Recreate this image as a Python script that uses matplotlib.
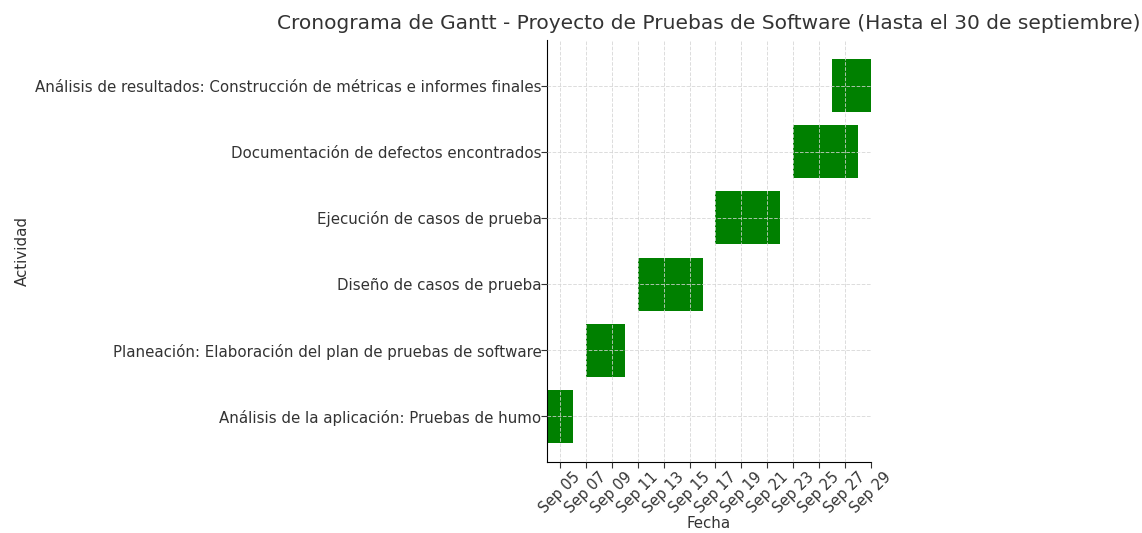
import matplotlib
matplotlib.use("Agg")
import matplotlib.pyplot as plt
import matplotlib.dates as mdates
from datetime import datetime

tasks = [
    "Análisis de la aplicación: Pruebas de humo",
    "Planeación: Elaboración del plan de pruebas de software",
    "Diseño de casos de prueba",
    "Ejecución de casos de prueba",
    "Documentación de defectos encontrados",
    "Análisis de resultados: Construcción de métricas e informes finales",
]
starts = ["2023-09-04", "2023-09-07", "2023-09-11", "2023-09-17", "2023-09-23", "2023-09-26"]
ends = ["2023-09-06", "2023-09-10", "2023-09-16", "2023-09-22", "2023-09-28", "2023-09-29"]

s = [mdates.date2num(datetime.strptime(d, "%Y-%m-%d")) for d in starts]
e = [mdates.date2num(datetime.strptime(d, "%Y-%m-%d")) for d in ends]
dur = [b - a for a, b in zip(s, e)]

txt = "#333333"
plt.rcParams['font.family'] = ['DejaVu Sans']
fig = plt.figure(figsize=(11.42, 5.33), dpi=100)
ax = fig.add_axes([547/1142, 1-462/533, (871-547)/1142, (462-40)/533])

ax.barh(tasks, dur, left=s, color="green", height=0.8, zorder=2)
ax.set_axisbelow(False)
ax.grid(True, linestyle="--", color="#d4d4d4", linewidth=0.7, alpha=0.8)
ax.set_xlim(mdates.date2num(datetime(2023, 9, 4)), mdates.date2num(datetime(2023, 9, 29)))
ax.xaxis.set_major_locator(mdates.DayLocator(bymonthday=range(5, 31, 2)))
ax.xaxis.set_major_formatter(mdates.DateFormatter("%b %d"))
for lbl in ax.get_xticklabels():
    lbl.set_rotation(45)

for sp in ["top", "right"]:
    ax.spines[sp].set_visible(False)
ax.tick_params(colors=txt, labelsize=10.8, labelcolor=txt, length=4)
ax.tick_params(axis='y', pad=0)
ax.tick_params(axis='x', pad=1.5, labelsize=10.5)
ax.set_xlabel("Fecha", fontsize=10.8, color=txt, labelpad=0)
ax.set_ylabel("Actividad", fontsize=10.8, color=txt)
ax.set_title("Cronograma de Gantt - Proyecto de Pruebas de Software (Hasta el 30 de septiembre)",
             fontsize=14.5, color=txt, pad=8)

fig.savefig("out.png", dpi=100)
